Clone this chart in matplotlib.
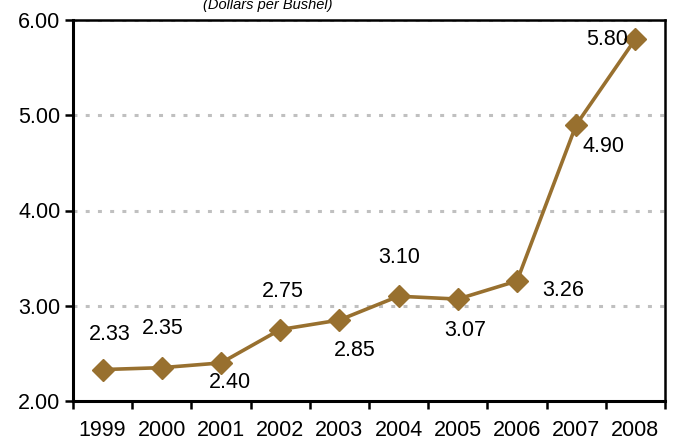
import matplotlib.pyplot as plt
import numpy as np

plt.rcParams['font.family'] = ['Liberation Sans', 'DejaVu Sans']

years = ['1999', '2000', '2001', '2002', '2003', '2004', '2005', '2006', '2007', '2008']
prices = [2.33, 2.35, 2.40, 2.75, 2.85, 3.10, 3.07, 3.26, 4.90, 5.80]
# label offsets in pixels from each point
offsets = [(7, 35), (1, 39), (9, -20), (3, 38), (15, -30), (1, 39), (7, -31), (46, -10), (27, -22), (-28, 0)]

color = '#98702F'

fig = plt.figure(figsize=(6.73, 4.43), dpi=100)
ax = fig.add_axes([73/673, 1-401/443, (665-73)/673, (401-20)/443])

x = np.arange(len(years))
ax.plot(x, prices, color=color, lw=2.6, marker='D', markersize=11, zorder=3)

for xi, p, (dx, dy) in zip(x, prices, offsets):
    ax.annotate(f'{p:.2f}', (xi, p), xytext=(dx, dy), textcoords='offset pixels',
                ha='center', va='center', fontsize=15.5)

ax.set_xlim(-0.5, 9.5)
ax.set_ylim(2, 6)
ax.set_yticks([2, 3, 4, 5, 6])
ax.set_yticklabels([f'{v:.2f}' for v in [2, 3, 4, 5, 6]], fontsize=15.5)
ax.set_xticks(x)
ax.set_xticklabels(years, fontsize=15.5)
ax.set_xticks(np.arange(-0.5, 10, 1), minor=True)
ax.tick_params(axis='x', which='major', length=0, pad=13.5)
ax.tick_params(axis='x', which='minor', length=6, width=1.8, direction='out')
ax.tick_params(axis='y', length=6, width=1.8, direction='out', pad=3)

for v in [3, 4, 5, 6]:
    ax.axhline(v, color='#C0C0C0', lw=2.2, ls=(0, (1.3, 2.7)), zorder=1)

for s in ax.spines.values():
    s.set_linewidth(1.8)
    s.set_zorder(2)
ax.spines['left'].set_linewidth(2.2)
ax.spines['bottom'].set_linewidth(2.2)

fig.text(268/673, 1-9/443, '(Dollars per Bushel)', ha='center', va='baseline',
         fontsize=10.5, style='italic')

fig.savefig('out.png', dpi=100)
